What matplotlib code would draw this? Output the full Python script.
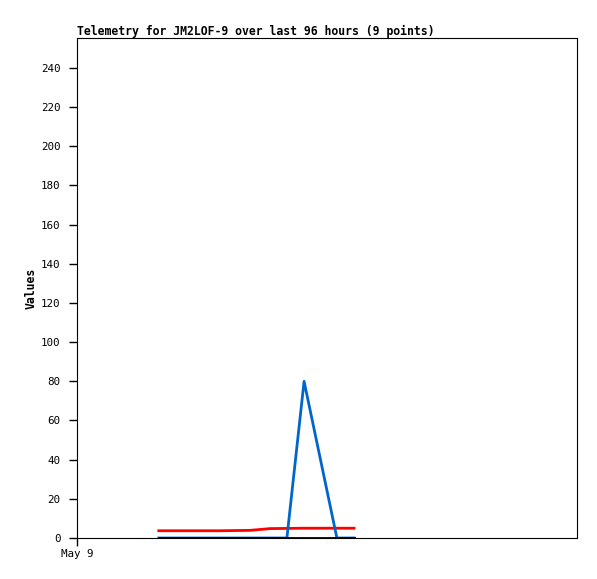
import matplotlib
matplotlib.use("Agg")
import matplotlib.pyplot as plt

hours = [15.7, 21.7, 27.5, 33.2, 37.1, 40.3, 43.6, 49.9, 53.2]
red_vals = [3.7, 3.7, 3.7, 3.9, 4.8, 4.9, 5.0, 5.0, 5.0]
blue_vals = [0, 0, 0, 0, 0, 0, 80, 0, 0]
black_vals = [0, 0, 0, 0, 0, 0, 0, 0, 0]
yticks = list(range(0, 241, 20))
xtick_pos = [0]
xtick_labels = ["May 9"]
title = "Telemetry for JM2LOF-9 over last 96 hours (9 points)"

fig = plt.figure(figsize=(5.97, 5.79), dpi=100)
ax = fig.add_axes([77/597, 41/579, 500/597, 500/579])
ax.plot(hours, red_vals, color="#ff0000", lw=2)
ax.plot(hours, blue_vals, color="#0066cc", lw=2)
ax.plot(hours, black_vals, color="#000000", lw=2)
ax.set_xlim(0, 96)
ax.set_ylim(0, 255.3)
ax.set_yticks(yticks)
ax.set_xticks(xtick_pos)
ax.set_xticklabels(xtick_labels)
mono = "DejaVu Sans Mono"
for lab in ax.get_yticklabels() + ax.get_xticklabels():
    lab.set_fontfamily(mono)
    lab.set_fontsize(7.8)
ax.tick_params(axis="y", direction="out", length=6, width=1, pad=6)
ax.tick_params(axis="x", direction="out", length=6, width=1, pad=2)
for s in ax.spines.values():
    s.set_linewidth(0.8)
ax.set_ylabel("Values", fontfamily=mono, fontsize=8.3, fontweight="bold", labelpad=2)
ax.set_title(title, fontfamily=mono, fontsize=8.3, fontweight="bold", loc="left", pad=2)
fig.savefig("out.png", dpi=100)
